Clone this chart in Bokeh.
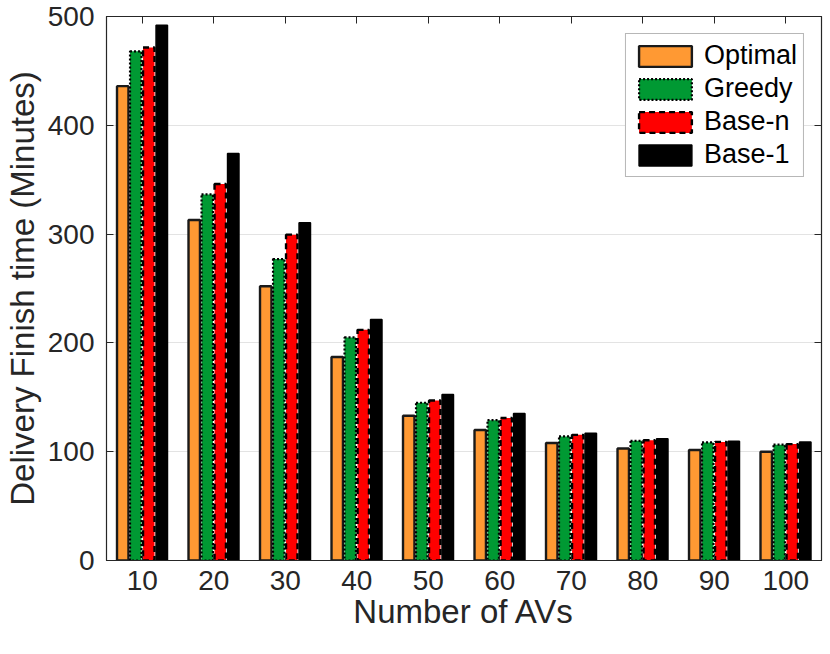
from bokeh.plotting import figure
from bokeh.models import LinearAxis, FixedTicker, Range1d, ColumnDataSource, Legend, LegendItem, CustomJSTickFormatter
from bokeh.transform import dodge
from bokeh.embed import file_html
from bokeh.resources import INLINE

num_avs = [10, 20, 30, 40, 50, 60, 70, 80, 90, 100]
optimal = [436, 313, 252, 187, 133, 120, 108, 103, 101.5, 100]
greedy = [468, 336.5, 277, 205, 145, 129, 114, 110, 108.5, 106.5]
base_n = [471.5, 346, 299.5, 212, 147, 131, 115.5, 110.5, 109, 107]
base_1 = [492, 374, 310.5, 221.5, 152.5, 135, 117, 112, 109.5, 109]
y_ticks = [0, 100, 200, 300, 400, 500]

src = ColumnDataSource(dict(x=num_avs, optimal=optimal, greedy=greedy, base_n=base_n, base_1=base_1))

FONT = "Liberation Sans"
AX = "#262626"

p = figure(frame_width=715, frame_height=544, output_backend="svg", toolbar_location=None,
           x_range=Range1d(5, 105), y_range=Range1d(0, 500),
           min_border_left=106, min_border_right=2, min_border_top=16, min_border_bottom=80)
p.background_fill_color = "white"
p.outline_line_color = AX
p.outline_line_width = 1.2

p.xaxis.ticker = FixedTicker(ticks=num_avs)
p.yaxis.ticker = FixedTicker(ticks=y_ticks)
for ax in (p.xaxis[0], p.yaxis[0]):
    ax.major_tick_out = 0
    ax.major_tick_in = 7
    ax.minor_tick_out = 0
    ax.minor_tick_in = 0
    ax.axis_line_color = AX
    ax.major_tick_line_color = AX
    ax.major_label_text_font = FONT
    ax.major_label_text_font_size = "28px"
    ax.major_label_text_color = AX
    ax.axis_label_text_font = FONT
    ax.axis_label_text_font_size = "33px"
    ax.axis_label_text_font_style = "normal"
    ax.axis_label_text_color = AX
p.xaxis.axis_label = "Number of AVs"
p.yaxis.axis_label = "Delivery Finish time (Minutes)"
p.yaxis.major_label_standoff = 12
p.yaxis.axis_label_standoff = 4
p.xaxis.major_label_standoff = 10
p.xaxis.axis_label_standoff = 0

blank = CustomJSTickFormatter(code="return ''")
top = LinearAxis(ticker=FixedTicker(ticks=num_avs), formatter=blank, major_tick_out=0, major_tick_in=7,
                 minor_tick_in=0, minor_tick_out=0, major_label_standoff=0, axis_line_color=AX,
                 major_tick_line_color=AX, major_label_text_font_size="1px")
right = LinearAxis(ticker=FixedTicker(ticks=y_ticks), formatter=blank, major_tick_out=0, major_tick_in=7,
                   minor_tick_in=0, minor_tick_out=0, major_label_standoff=0, axis_line_color=AX,
                   major_tick_line_color=AX, major_label_text_font_size="1px")
p.add_layout(top, "above")
p.add_layout(right, "right")

p.xgrid.grid_line_color = None
p.ygrid.grid_line_color = "#e3e3e3"
p.ygrid.grid_line_width = 1.2
p.ygrid.ticker = FixedTicker(ticks=y_ticks)

W = 1.6
r1 = p.vbar(x=dodge("x", -2.73), top="optimal", width=W, source=src,
            fill_color="#FF9933", line_color="#1a1a1a", line_width=2.4)
r2 = p.vbar(x=dodge("x", -0.91), top="greedy", width=W, source=src,
            fill_color="#009933", line_color="#000000", line_width=2.2, line_dash="2 2")
r3 = p.vbar(x=dodge("x", 0.91), top="base_n", width=W, source=src,
            fill_color="#FF0000", line_color="#000000", line_width=2.4, line_dash="6 4")
r4 = p.vbar(x=dodge("x", 2.73), top="base_1", width=W, source=src,
            fill_color="#000000", line_color="#000000", line_width=1.5)

legend = Legend(items=[LegendItem(label="Optimal", renderers=[r1]),
                       LegendItem(label="Greedy", renderers=[r2]),
                       LegendItem(label="Base-n", renderers=[r3]),
                       LegendItem(label="Base-1", renderers=[r4])],
                location="top_right", margin=17, padding=6, spacing=2,
                glyph_width=66, glyph_height=26, label_height=26, label_standoff=6,
                label_text_font=FONT, label_text_font_size="27px", label_text_color="#000000",
                border_line_color="#707070", border_line_width=1.5, background_fill_alpha=1.0)
p.add_layout(legend, "center")

open("out.html", "w").write(file_html(p, INLINE))
